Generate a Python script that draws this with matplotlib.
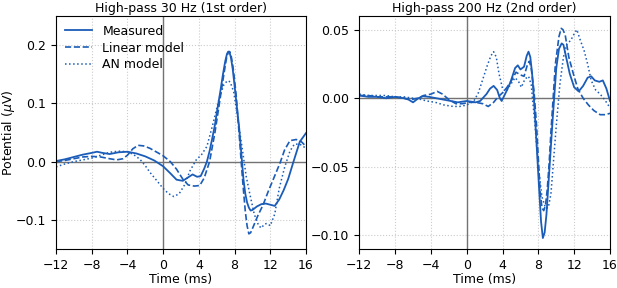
import matplotlib
matplotlib.use("Agg")
import matplotlib.pyplot as plt

BLUE = "#1a5cb8"

# left panel: high-pass 30 Hz (1st order)
t_meas_30 = [-12, -11, -10, -9, -8, -7.4, -6.8, -6, -5, -4, -3, -2, -1, 0, 0.8, 1.5, 2.2, 2.8, 3.3, 3.8, 4.2,
             4.6, 4.9, 5.2, 5.5, 5.8, 6.0, 6.4, 6.7, 6.95, 7.15, 7.3, 7.45, 7.6, 7.8, 8.0, 8.25, 8.5, 8.75,
             9.0, 9.2, 9.4, 9.6, 9.8, 10.0, 10.5, 11.0, 11.5, 12.0, 12.5, 13.0, 13.5, 14.0, 14.6, 15.3, 16]
v_meas_30 = [0.001, 0.004, 0.008, 0.012, 0.015, 0.017, 0.015, 0.013, 0.016, 0.017, 0.014, 0.009, 0.002, -0.008,
             -0.02, -0.031, -0.033, -0.027, -0.022, -0.026, -0.025, -0.012, 0.0, 0.018, 0.04, 0.063, 0.083,
             0.12, 0.15, 0.172, 0.185, 0.189, 0.187, 0.178, 0.158, 0.13, 0.095, 0.06, 0.015, -0.031, -0.055,
             -0.07, -0.079, -0.084, -0.083, -0.077, -0.073, -0.072, -0.074, -0.076, -0.065, -0.049, -0.03,
             0.0, 0.034, 0.049]
t_lin_30 = [-12, -11, -10, -9, -8, -7, -6, -5.2, -4.5, -4, -3.4, -2.8, -2.2, -1.5, -0.8, 0, 0.8, 1.5, 2.2,
            2.8, 3.5, 4.1, 4.6, 5.2, 5.8, 6.4, 6.8, 7.1, 7.3, 7.45, 7.6, 7.8, 8.0, 8.2, 8.4, 8.6, 8.8, 9.0,
            9.2, 9.4, 9.6, 9.8, 10.0, 10.6, 11.2, 11.8, 12.4, 13.1, 13.6, 14.2, 14.9, 15.5, 16]
v_lin_30 = [0.0, 0.002, 0.005, 0.008, 0.009, 0.008, 0.005, 0.003, 0.005, 0.011, 0.022, 0.028, 0.027, 0.023,
            0.017, 0.010, 0.0, -0.013, -0.03, -0.04, -0.042, -0.041, -0.028, 0.0, 0.05, 0.11, 0.15, 0.178,
            0.188, 0.189, 0.183, 0.165, 0.14, 0.11, 0.07, 0.03, -0.012, -0.05, -0.085, -0.11, -0.124,
            -0.122, -0.115, -0.093, -0.074, -0.05, -0.028, -0.002, 0.02, 0.036, 0.038, 0.034, 0.026]
t_an_30 = [-12, -11, -10, -9, -8, -7, -6, -5, -4, -3.3, -2.6, -2, -1.5, -0.8, 0, 0.6, 1.2, 1.8, 2.4, 3.0,
           3.7, 4.3, 4.9, 5.6, 6.3, 6.8, 7.2, 7.5, 7.9, 8.4, 8.9, 9.3, 9.7, 10.2, 10.7, 11.0, 11.3, 11.6,
           12.0, 12.5, 13.0, 13.6, 14.2, 14.7, 15.3, 16]
v_an_30 = [-0.009, -0.004, 0.0, 0.003, 0.006, 0.011, 0.016, 0.018, 0.017, 0.012, 0.004, -0.007, -0.018,
           -0.031, -0.046, -0.055, -0.06, -0.055, -0.04, -0.016, 0.003, 0.012, 0.026, 0.066, 0.11, 0.132,
           0.139, 0.137, 0.12, 0.07, 0.018, -0.025, -0.055, -0.09, -0.11, -0.114, -0.108, -0.106, -0.11,
           -0.09, -0.046, -0.01, 0.018, 0.03, 0.03, 0.023]

# right panel: high-pass 200 Hz (2nd order)
t_meas_200 = [-12, -11, -10, -9, -8, -7, -6.5, -6, -5.4, -4.9, -4.2, -3.4, -2.6, -1.8, -1, 0, 1, 1.5, 2.2,
              2.6, 3.0, 3.4, 3.7, 3.9, 4.2, 4.5, 4.9, 5.4, 5.7, 6.0, 6.4, 6.7, 6.9, 7.1, 7.3, 7.5, 7.7, 7.9,
              8.1, 8.3, 8.5, 8.7, 8.9, 9.1, 9.3, 9.6, 10.0, 10.3, 10.6, 10.8, 11.0, 11.5, 12.0, 12.5, 13.0,
              13.5, 13.9, 14.3, 14.8, 15.2, 15.6, 16]
v_meas_200 = [0.002, 0.001, 0.001, 0.0, 0.001, 0.0, -0.001, -0.003, 0.0, 0.0015, 0.001, 0.0, -0.001,
              -0.002, -0.003, -0.002, -0.003, -0.002, 0.003, 0.007, 0.009, 0.006, 0.0, -0.002, 0.002, 0.006,
              0.012, 0.022, 0.024, 0.021, 0.023, 0.031, 0.034, 0.03, 0.018, 0.0, -0.022, -0.045, -0.068,
              -0.09, -0.102, -0.098, -0.085, -0.065, -0.045, -0.015, 0.022, 0.036, 0.04, 0.039, 0.033, 0.018,
              0.008, 0.005, 0.009, 0.015, 0.016, 0.013, 0.012, 0.013, 0.007, -0.002]
t_lin_200 = [-12, -11, -10, -9, -8, -7, -6.2, -5.5, -4.8, -4.0, -3.3, -2.7, -2.0, -1.2, -0.5, 0.3, 1.0, 1.8,
             2.4, 3.0, 3.5, 4.0, 4.5, 5.0, 5.5, 6.0, 6.4, 6.8, 7.0, 7.2, 7.5, 7.8, 8.0, 8.2, 8.4, 8.6, 8.8,
             9.0, 9.2, 9.4, 9.6, 9.9, 10.3, 10.55, 10.75, 11.0, 11.4, 11.9, 12.4, 13.0, 13.6, 14.2, 14.9,
             15.5, 16]
v_lin_200 = [0.002, 0.002, 0.001, 0.001, 0.001, 0.0, -0.001, 0.0, 0.002, 0.003, 0.005, 0.003, -0.001,
             -0.004, -0.004, -0.003, -0.003, -0.004, -0.006, -0.003, 0.001, 0.004, 0.008, 0.013, 0.019,
             0.017, 0.016, 0.025, 0.027, 0.022, 0.006, -0.02, -0.045, -0.068, -0.08, -0.082, -0.078, -0.066,
             -0.048, -0.025, -0.005, 0.025, 0.045, 0.051, 0.05, 0.046, 0.03, 0.018, 0.007, 0.0, -0.005,
             -0.009, -0.012, -0.012, -0.011]
t_an_200 = [-12, -11, -10, -9, -8, -7, -6, -5, -4.5, -3.5, -2.5, -1.5, -0.8, 0, 0.8, 1.3, 1.8, 2.3, 2.7,
            3.0, 3.3, 3.6, 4.0, 4.4, 4.9, 5.4, 5.8, 6.1, 6.5, 6.9, 7.2, 7.6, 8.0, 8.4, 8.8, 9.1, 9.4, 9.7,
            10.0, 10.4, 10.8, 11.2, 11.6, 12.0, 12.3, 12.7, 13.1, 13.5, 13.9, 14.4, 14.9, 15.4, 16]
v_an_200 = [0.003, 0.002, 0.002, 0.002, 0.001, 0.001, 0.0, -0.001, -0.002, -0.003, -0.005, -0.006, -0.006,
            -0.005, -0.002, 0.004, 0.014, 0.024, 0.031, 0.034, 0.03, 0.018, 0.007, 0.005, 0.01, 0.015,
            0.012, 0.008, 0.014, 0.016, 0.01, -0.018, -0.05, -0.072, -0.08, -0.08, -0.07, -0.045, -0.02,
            0.01, 0.03, 0.04, 0.042, 0.047, 0.05, 0.042, 0.035, 0.025, 0.013, 0.006, 0.003, -0.001, -0.007]

XTICKS = [-12, -8, -4, 0, 4, 8, 12, 16]

plt.rcParams["font.size"] = 9
fig = plt.figure(figsize=(6.17, 2.88), dpi=100)
ax1 = fig.add_axes([56 / 617, 1 - 249 / 288, 250 / 617, 233 / 288])
ax2 = fig.add_axes([359.3 / 617, 1 - 249 / 288, 250.7 / 617, 233 / 288])

panels = [
    (ax1, "High-pass 30 Hz (1st order)", (-0.15, 0.25), [-0.1, 0.0, 0.1, 0.2],
     (t_meas_30, v_meas_30), (t_lin_30, v_lin_30), (t_an_30, v_an_30)),
    (ax2, "High-pass 200 Hz (2nd order)", (-0.11, 0.06), [-0.10, -0.05, 0.0, 0.05],
     (t_meas_200, v_meas_200), (t_lin_200, v_lin_200), (t_an_200, v_an_200)),
]

for ax, title, ylim, yticks, meas, lin, an in panels:
    ax.axhline(0, color="0.45", lw=1.0, zorder=1)
    ax.axvline(0, color="0.45", lw=1.0, zorder=1)
    ax.plot(*meas, color=BLUE, lw=1.3, ls="-", label="Measured")
    ax.plot(*lin, color=BLUE, lw=1.2, ls="--", label="Linear model")
    ax.plot(*an, color=BLUE, lw=1.1, ls=":", label="AN model")
    ax.set_xlim(-12, 16)
    ax.set_ylim(*ylim)
    ax.set_xticks(XTICKS)
    ax.set_yticks(yticks)
    ax.grid(True, ls=":", color="0.8", lw=0.8)
    ax.set_axisbelow(True)
    ax.set_title(title, fontsize=9, pad=3)
    ax.set_xlabel("Time (ms)", labelpad=1)

ax2.set_yticklabels(["\u22120.10", "\u22120.05", "0.00", "0.05"])
ax1.set_ylabel("Potential ($\\mu$V)")
ax1.yaxis.set_label_coords(-0.155, 0.5)
ax1.legend(loc="upper left", frameon=False, fontsize=9, handlelength=2.2,
           borderaxespad=0.3, labelspacing=0.3)

fig.savefig("out.png", dpi=100)
